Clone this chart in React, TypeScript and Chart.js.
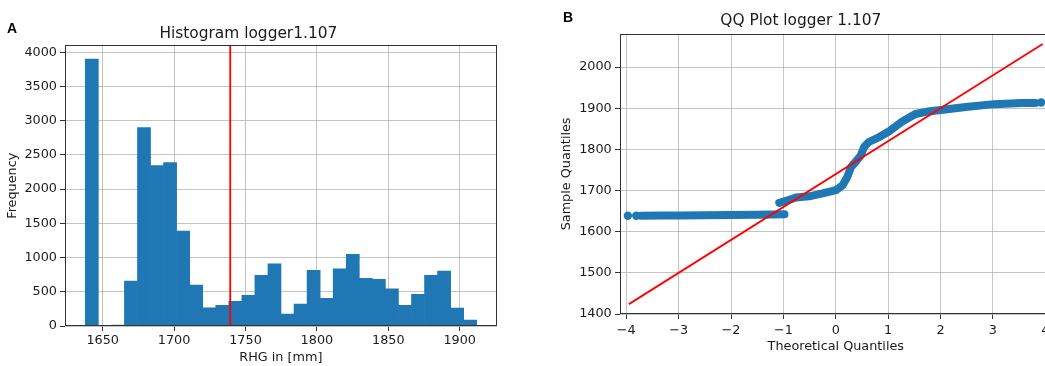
import React, { useEffect, useRef } from "react";
import { Chart, registerables } from "chart.js";

Chart.register(...registerables);

// ---------- Histogram data ----------
const histBinCenters = [
  1642.37, 1651.51, 1660.65, 1669.78, 1678.92, 1688.06, 1697.19, 1706.33, 1715.47, 1724.6,
  1733.74, 1742.88, 1752.01, 1761.15, 1770.29, 1779.43, 1788.56, 1797.7, 1806.84, 1815.97,
  1825.11, 1834.25, 1843.38, 1852.52, 1861.66, 1870.8, 1879.93, 1889.07, 1898.21, 1907.34,
];
const histCounts = [
  3900, 10, 15, 657, 2900, 2346, 2390, 1387, 598, 267,
  302, 360, 448, 740, 909, 175, 321, 813, 404, 837,
  1046, 696, 682, 545, 302, 463, 740, 803, 263, 88,
];
const histMean = 1739.3;
const histXRange = [1623.6, 1925.9];
const histYRange = [0, 4100];
const histXTicks = [1650, 1700, 1750, 1800, 1850, 1900];
const histYTicks = [0, 500, 1000, 1500, 2000, 2500, 3000, 3500, 4000];

// ---------- QQ data ----------
const qqLowerX = [-3.72, -3.3, -3.0, -2.5, -2.0, -1.5, -1.2, -0.98];
const qqLowerY = [1638.8, 1639.2, 1639.5, 1640, 1640.5, 1641.3, 1642, 1642.5];
const qqUpperX = [
  -1.08, -0.9, -0.76, -0.51, -0.25, 0, 0.13, 0.22, 0.29, 0.38, 0.48, 0.54, 0.63, 0.83,
  1.02, 1.27, 1.52, 1.75, 2.01, 2.48, 3.02, 3.55, 3.81,
];
const qqUpperY = [
  1670, 1677, 1683, 1686, 1693, 1701, 1713, 1733, 1757, 1770, 1786, 1806, 1818, 1830,
  1844, 1868, 1886, 1892, 1896, 1903, 1910, 1913, 1913,
];
const qqTailX = [-3.97, -3.81, 3.92];
const qqTailY = [1638.6, 1638.7, 1914];
const qqLineX = [-3.95, 3.95];
const qqLineY = [1424, 2056];
const qqXRange = [-4.12, 4.12];
const qqYRange = [1400, 2081];
const qqXTicks = [-4, -3, -2, -1, 0, 1, 2, 3, 4];
const qqYTicks = [1400, 1500, 1600, 1700, 1800, 1900, 2000];

const FONT = "'DejaVu Sans', sans-serif";
const BLUE = "#1f77b4";
const GRID = "rgba(176,176,176,0.75)";
const TEXT = "#1a1a1a";
const AXIS = "#333333";

const boxPlugin = {
  id: "box",
  afterDraw(chart: any) {
    const { ctx, chartArea: a } = chart;
    ctx.save();
    ctx.strokeStyle = AXIS;
    ctx.lineWidth = 1;
    const l = Math.round(a.left) + 0.5;
    const t = Math.round(a.top) + 0.5;
    const r = Math.round(a.right) - 0.5;
    const b = Math.round(a.bottom) - 0.5;
    ctx.strokeRect(l, t, r - l, b - t);
    ctx.restore();
  },
};

const tickFont = { family: FONT, size: 12.8 };
const setTicks = (vals: number[]) => (s: any) => {
  s.ticks = vals.map((v) => ({ value: v }));
};
const fmt = (v: any) => {
  const n = Number(v);
  return n < 0 ? "\u2212" + Math.abs(n) : String(n);
};

function Histogram() {
  const ref = useRef<HTMLCanvasElement>(null);
  useEffect(() => {
    const chart = new Chart(ref.current!, {
      type: "bar",
      data: {
        datasets: [
          {
            type: "line",
            data: [
              { x: histMean, y: histYRange[0] },
              { x: histMean, y: histYRange[1] },
            ],
            borderColor: "#ff0000",
            borderWidth: 1.8,
            pointRadius: 0,
          } as any,
          {
            type: "bar",
            data: histBinCenters.map((x, i) => ({ x, y: histCounts[i] })),
            backgroundColor: BLUE,
            borderWidth: 0,
            barPercentage: 1,
            categoryPercentage: 1,
            grouped: false,
          } as any,
        ],
      },
      options: {
        animation: false,
        responsive: false,
        devicePixelRatio: 1,
        layout: { padding: { left: 0, right: 23.3, top: 0, bottom: 0 } },
        plugins: {
          legend: { display: false },
          tooltip: { enabled: false },
          title: {
            display: true,
            text: "Histogram logger1.107",
            font: { family: FONT, size: 15.4, weight: "normal" },
            color: TEXT,
            padding: { top: 24.5, bottom: 2.5 },
          },
        },
        scales: {
          x: {
            type: "linear",
            min: histXRange[0],
            max: histXRange[1],
            offset: false,
            z: 1,
            afterBuildTicks: setTicks(histXTicks),
            ticks: { font: tickFont, color: TEXT, padding: 1.5, maxRotation: 0, autoSkip: false, callback: fmt },
            grid: { color: GRID, tickColor: AXIS, tickLength: 5, lineWidth: 1, offset: false },
            border: { display: false },
            title: { display: true, text: "RHG in [mm]", font: tickFont, color: TEXT, padding: { top: 0, bottom: 0.5 } },
            afterFit: (s: any) => { s.height = 40; },
          } as any,
          y: {
            type: "linear",
            min: histYRange[0],
            max: histYRange[1],
            z: 1,
            afterBuildTicks: setTicks(histYTicks),
            ticks: { font: tickFont, color: TEXT, padding: 3, autoSkip: false, callback: fmt },
            grid: { color: GRID, tickColor: AXIS, tickLength: 5, lineWidth: 1 },
            border: { display: false },
            title: { display: true, text: "Frequency", font: tickFont, color: TEXT, padding: { top: 4.5, bottom: 0 } },
            afterFit: (s: any) => { s.width = 65; },
          } as any,
        },
      },
      plugins: [boxPlugin],
    });
    return () => chart.destroy();
  }, []);
  return <canvas ref={ref} width={520} height={366} style={{ position: "absolute", left: 0, top: 0 }} />;
}

function QQPlot() {
  const ref = useRef<HTMLCanvasElement>(null);
  useEffect(() => {
    const band = (xs: number[], ys: number[]) => ({
      data: xs.map((x, i) => ({ x, y: ys[i] })),
      showLine: true,
      borderColor: BLUE,
      borderWidth: 8,
      borderCapStyle: "round",
      borderJoinStyle: "round",
      pointRadius: 0,
    });
    const chart = new Chart(ref.current!, {
      type: "scatter",
      data: {
        datasets: [
          {
            data: qqLineX.map((x, i) => ({ x, y: qqLineY[i] })),
            showLine: true,
            borderColor: "#ff0000",
            borderWidth: 1.8,
            pointRadius: 0,
          } as any,
          {
            data: qqTailX.map((x, i) => ({ x, y: qqTailY[i] })),
            backgroundColor: BLUE,
            borderWidth: 0,
            pointRadius: 4.2,
          } as any,
          band(qqLowerX, qqLowerY) as any,
          band(qqUpperX, qqUpperY) as any,
        ],
      },
      options: {
        animation: false,
        responsive: false,
        devicePixelRatio: 1,
        layout: { padding: { left: 0, right: 8.4, top: 0, bottom: 0 } },
        plugins: {
          legend: { display: false },
          tooltip: { enabled: false },
          title: {
            display: true,
            text: "QQ Plot logger 1.107",
            font: { family: FONT, size: 15.4, weight: "normal" },
            color: TEXT,
            padding: { top: 12, bottom: 3.3 },
          },
        },
        scales: {
          x: {
            type: "linear",
            min: qqXRange[0],
            max: qqXRange[1],
            afterBuildTicks: setTicks(qqXTicks),
            ticks: { font: tickFont, color: TEXT, padding: 3.5, maxRotation: 0, autoSkip: false, callback: fmt },
            grid: { color: GRID, tickColor: AXIS, tickLength: 5, lineWidth: 1 },
            border: { display: false },
            title: { display: true, text: "Theoretical Quantiles", font: tickFont, color: TEXT, padding: { top: 0, bottom: 11.5 } },
            afterFit: (s: any) => { s.height = 52; },
          } as any,
          y: {
            type: "linear",
            min: qqYRange[0],
            max: qqYRange[1],
            afterBuildTicks: setTicks(qqYTicks),
            ticks: { font: tickFont, color: TEXT, padding: 3.3, autoSkip: false, callback: fmt },
            grid: { color: GRID, tickColor: AXIS, tickLength: 5, lineWidth: 1 },
            border: { display: false },
            title: { display: true, text: "Sample Quantiles", font: tickFont, color: TEXT, padding: { top: 9, bottom: 0 } },
            afterFit: (s: any) => { s.width = 70; },
          } as any,
        },
      },
      plugins: [boxPlugin],
    });
    return () => chart.destroy();
  }, []);
  return <canvas ref={ref} width={510} height={366} style={{ position: "absolute", left: 550, top: 0 }} />;
}

const letterStyle: React.CSSProperties = {
  position: "absolute",
  fontFamily: "'Liberation Sans', Arial, sans-serif",
  fontWeight: "bold",
  fontSize: 14,
  color: "#000",
  lineHeight: "16px",
};

export default function App() {
  return (
    <div
      style={{
        position: "fixed",
        left: 0,
        top: 0,
        width: 1045,
        height: 366,
        overflow: "hidden",
        background: "#fff",
      }}
    >
      <Histogram />
      <QQPlot />
      <div style={{ ...letterStyle, left: 7, top: 20 }}>A</div>
      <div style={{ ...letterStyle, left: 563, top: 9 }}>B</div>
    </div>
  );
}
